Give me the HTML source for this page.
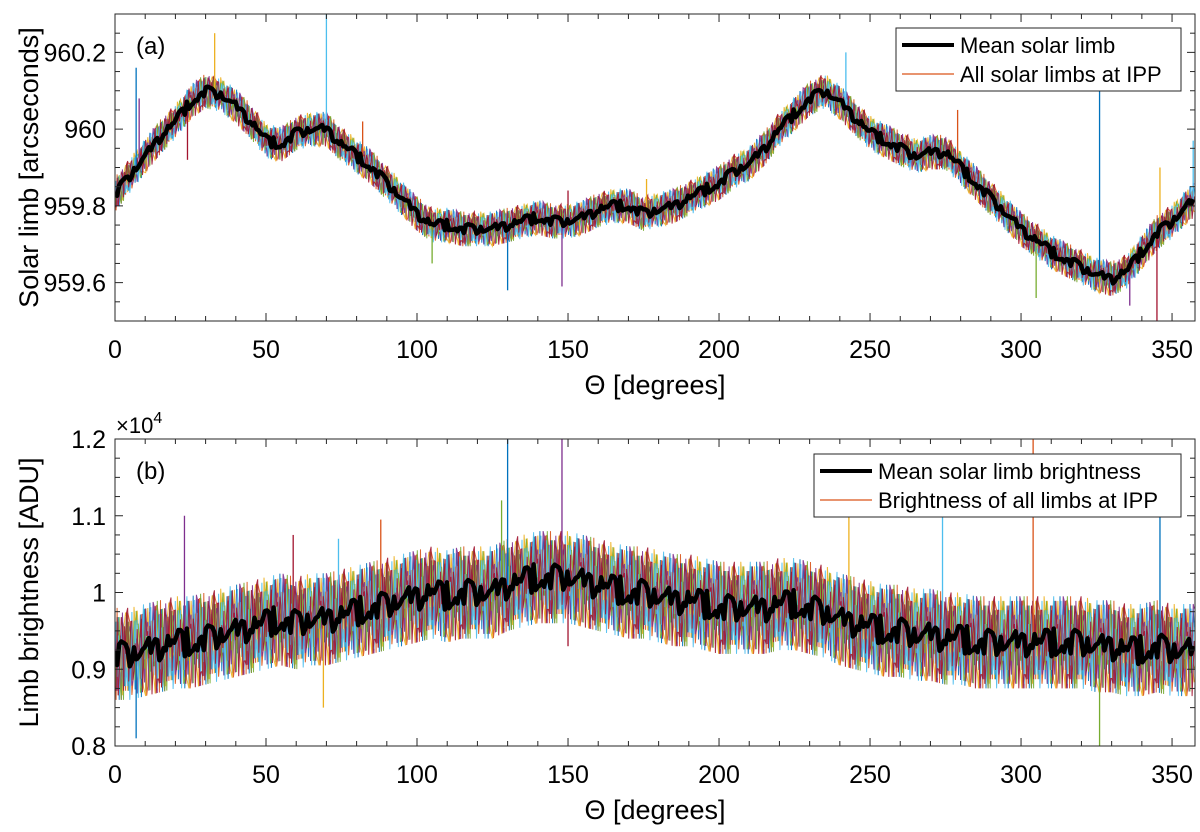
<!DOCTYPE html>
<html><head><meta charset="utf-8"><style>
body{margin:0;background:#fff}
svg{display:block;font-family:"Liberation Sans",Arial,sans-serif}
</style></head><body>
<svg id="chart" width="1200" height="832" viewBox="0 0 1200 832" xmlns="http://www.w3.org/2000/svg">
<defs>
<clipPath id="clipA"><rect x="115" y="14" width="1080" height="307"/></clipPath>
<clipPath id="clipB"><rect x="115" y="439" width="1080" height="307"/></clipPath>
</defs>
<g id="plotA"></g>
<g id="plotB"></g>
</svg>
<script>
// ---- data ----
const thetaSamples=[0,5,10,15,20,25,30,35,40,45,50,55,60,65,70,75,80,85,90,95,100,105,110,115,120,125,130,135,140,145,150,155,160,165,170,175,180,185,190,195,200,205,210,215,220,225,230,235,240,245,250,255,260,265,270,275,280,285,290,295,300,305,310,315,320,325,330,335,340,345,350,355,358];
const limbMean=[959.83,959.88,959.93,959.98,960.02,960.07,960.10,960.09,960.06,960.02,959.97,959.96,959.99,960.00,960.00,959.96,959.93,959.90,959.86,959.82,959.78,959.75,959.75,959.74,959.74,959.74,959.75,959.76,959.77,959.76,959.76,959.77,959.79,959.80,959.80,959.78,959.79,959.80,959.82,959.84,959.86,959.89,959.91,959.95,960.00,960.04,960.08,960.10,960.07,960.03,959.99,959.97,959.95,959.93,959.94,959.94,959.90,959.86,959.82,959.78,959.74,959.71,959.68,959.66,959.64,959.62,959.61,959.63,959.68,959.73,959.76,959.80,959.82];
const brightMean=[0.92,0.92,0.925,0.93,0.935,0.935,0.94,0.945,0.95,0.955,0.96,0.965,0.96,0.965,0.965,0.97,0.975,0.98,0.985,0.99,0.995,1.0,0.995,1.0,1.0,1.0,1.01,1.015,1.02,1.02,1.02,1.015,1.01,1.005,1.0,1.0,0.995,0.99,0.99,0.985,0.98,0.98,0.98,0.98,0.985,0.985,0.98,0.975,0.965,0.96,0.955,0.95,0.95,0.945,0.945,0.94,0.94,0.935,0.935,0.935,0.935,0.935,0.935,0.935,0.935,0.93,0.93,0.925,0.925,0.93,0.925,0.925,0.925];
const limbSpikeTheta=[7,8,24,33,70,82,105,130,148,150,176,242,279,305,326,336,345,346,357];
const limbSpikeValue=[960.16,960.08,959.92,960.25,960.32,960.02,959.65,959.58,959.59,959.84,959.87,960.2,960.05,959.56,960.12,959.54,959.45,959.9,959.97];
const brightSpikeTheta=[7,23,59,69,74,88,128,130,148,150,243,274,304,326,346];
const brightSpikeValue=[0.81,1.10,1.075,0.85,1.07,1.095,1.12,1.21,1.21,0.93,1.10,1.10,1.21,0.79,1.10];
const xTicks=[0,50,100,150,200,250,300,350];
const yTicksA=[959.6,959.8,960,960.2];
const yTickLabelsA=["959.6","959.8","960","960.2"];
const yTicksB=[0.8,0.9,1.0,1.1,1.2];
const yTickLabelsB=["0.8","0.9","1","1.1","1.2"];
const noiseTable=[0.3,-0.7,0.9,-0.2,0.5,-0.9,0.1,0.7,-0.4,0.8,-0.6,0.2,-1,0.6,-0.3,0.4,-0.8,1,-0.1,0.3,-0.5,0.7,-0.9,0.2,0.6,-0.4,0.9,-0.7,0.0,0.5,-0.2,0.8,-0.6,0.4,-1,0.1,0.7,-0.3,0.9,-0.8,0.2];
const colors=["#0072BD","#D95319","#EDB120","#7E2F8E","#77AC30","#4DBEEE","#A2142F"];

const NS="http://www.w3.org/2000/svg";
const svg=document.getElementById('chart');
function mk(t,a,p){const e=document.createElementNS(NS,t);for(const k in a)e.setAttribute(k,a[k]);(p||svg).appendChild(e);return e;}
function interp(xs,ys,x){for(let i=0;i<xs.length-1;i++){if(x<=xs[i+1]){const f=(x-xs[i])/(xs[i+1]-xs[i]);return ys[i]+f*(ys[i+1]-ys[i]);}}return ys[ys.length-1];}
const X0=115,X1=1195,XMAX=357.6;
const sx=t=>X0+t/XMAX*(X1-X0);

function panel(g,y0,y1,ymin,ymax,mean,amp,spT,spV,yT,yL,clip,label,ytitle,leg1,leg2,legBox){
  const sy=v=>y1-(v-ymin)/(ymax-ymin)*(y1-y0);
  const dg=mk('g',{'clip-path':'url(#'+clip+')'},g);
  
  
  for(let s=0;s<colors.length;s++){
    let d='';let k=0;
    for(let t=0;t<=XMAX;t+=0.35,k++){
      const n=noiseTable[(k*(2*s+3)+s*7)%41];
      const v=interp(thetaSamples,mean,t)+n*amp;
      d+=(k?'L':'M')+sx(t).toFixed(1)+' '+sy(v).toFixed(1);
    }
    const p=mk('path',{d:d,fill:'none',stroke:colors[s],'stroke-width':1,opacity:0.9},dg);
    
    
  }
  for(let i=0;i<spT.length;i++){
    const base=interp(thetaSamples,mean,spT[i]);
    const l=mk('line',{x1:sx(spT[i]),x2:sx(spT[i]),y1:sy(base),y2:sy(spV[i]),stroke:colors[(i*3)%7],'stroke-width':1.3},dg);
    
    
  }
  let d='';let k=0;
  for(let t=0;t<=XMAX;t+=0.7,k++){
    const n=noiseTable[(k*5+11)%41];
    const v=interp(thetaSamples,mean,t)+n*amp*0.3;
    d+=(k?'L':'M')+sx(t).toFixed(1)+' '+sy(v).toFixed(1);
  }
  const mp=mk('path',{d:d,fill:'none',stroke:'#000','stroke-width':4.5,'stroke-linejoin':'round'},dg);
  
  
  const box=mk('rect',{x:X0,y:y0,width:X1-X0,height:y1-y0,fill:'none',stroke:'#262626','stroke-width':1},g);
  
  
  for(let t=0;t<=XMAX;t+=10){
    const major=t%50===0;const L=major?8:5;
    mk('line',{x1:sx(t),x2:sx(t),y1:y1,y2:y1-L,stroke:'#262626'},g);
    mk('line',{x1:sx(t),x2:sx(t),y1:y0,y2:y0+L,stroke:'#262626'},g);
  }
  xTicks.forEach(t=>{
    const tx=mk('text',{x:sx(t),y:y1+37,'text-anchor':'middle','font-size':25,fill:'#000'},g);
    tx.textContent=t;
    
    
  });
  const step=(ymax-ymin)/16;
  for(let i=0;i<=16;i++){
    const v=ymin+i*step;const yy=sy(v);
    const major=yT.some(m=>Math.abs(m-v)<step/4);const L=major?8:5;
    mk('line',{x1:X0,x2:X0+L,y1:yy,y2:yy,stroke:'#262626'},g);
    mk('line',{x1:X1,x2:X1-L,y1:yy,y2:yy,stroke:'#262626'},g);
  }
  yT.forEach((v,i)=>{
    const tx=mk('text',{x:X0-9,y:sy(v)+9,'text-anchor':'end','font-size':25,fill:'#000'},g);
    tx.textContent=yL[i];
    
    
  });
  const xt=mk('text',{x:(X0+X1)/2,y:y1+73,'text-anchor':'middle','font-size':27,fill:'#000'},g);
  xt.textContent='\u0398 [degrees]';
  
  
  const yt=mk('text',{x:0,y:0,'text-anchor':'middle','font-size':27,fill:'#000',transform:'translate(38,'+((y0+y1)/2)+') rotate(-90)'},g);
  yt.textContent=ytitle;
  
  
  const pl=mk('text',{x:136,y:y0+40,'font-size':24,fill:'#000'},g);
  pl.textContent=label;
  
  
  const lg=mk('g',{},g);
  
  
  mk('rect',{x:legBox[0],y:legBox[1],width:1181-legBox[0],height:63,fill:'#fff',stroke:'#262626'},lg);
  mk('line',{x1:legBox[0]+6,x2:legBox[0]+58,y1:legBox[1]+17,y2:legBox[1]+17,stroke:'#000','stroke-width':4},lg);
  mk('line',{x1:legBox[0]+6,x2:legBox[0]+58,y1:legBox[1]+46,y2:legBox[1]+46,stroke:'#D95319','stroke-width':1.2},lg);
  const t1=mk('text',{x:legBox[0]+64,y:legBox[1]+25,'font-size':22,fill:'#000'},lg);t1.textContent=leg1;
  
  
  const t2=mk('text',{x:legBox[0]+64,y:legBox[1]+54,'font-size':22,fill:'#000'},lg);t2.textContent=leg2;
  
  
}
panel(document.getElementById('plotA'),14,321,959.5,960.3,limbMean,0.045,limbSpikeTheta,limbSpikeValue,yTicksA,yTickLabelsA,'clipA','(a)','Solar limb [arcseconds]','Mean solar limb','All solar limbs at IPP',[896,28]);
panel(document.getElementById('plotB'),439,746,0.8,1.2,brightMean,0.06,brightSpikeTheta,brightSpikeValue,yTicksB,yTickLabelsB,'clipB','(b)','Limb brightness [ADU]','Mean solar limb brightness','Brightness of all limbs at IPP',[814,454]);
const ex=mk('text',{x:116,y:433,'font-size':22,fill:'#000'});
ex.innerHTML='\u00d710<tspan dy="-10" font-size="16">4</tspan>';


</script>
</body></html>
